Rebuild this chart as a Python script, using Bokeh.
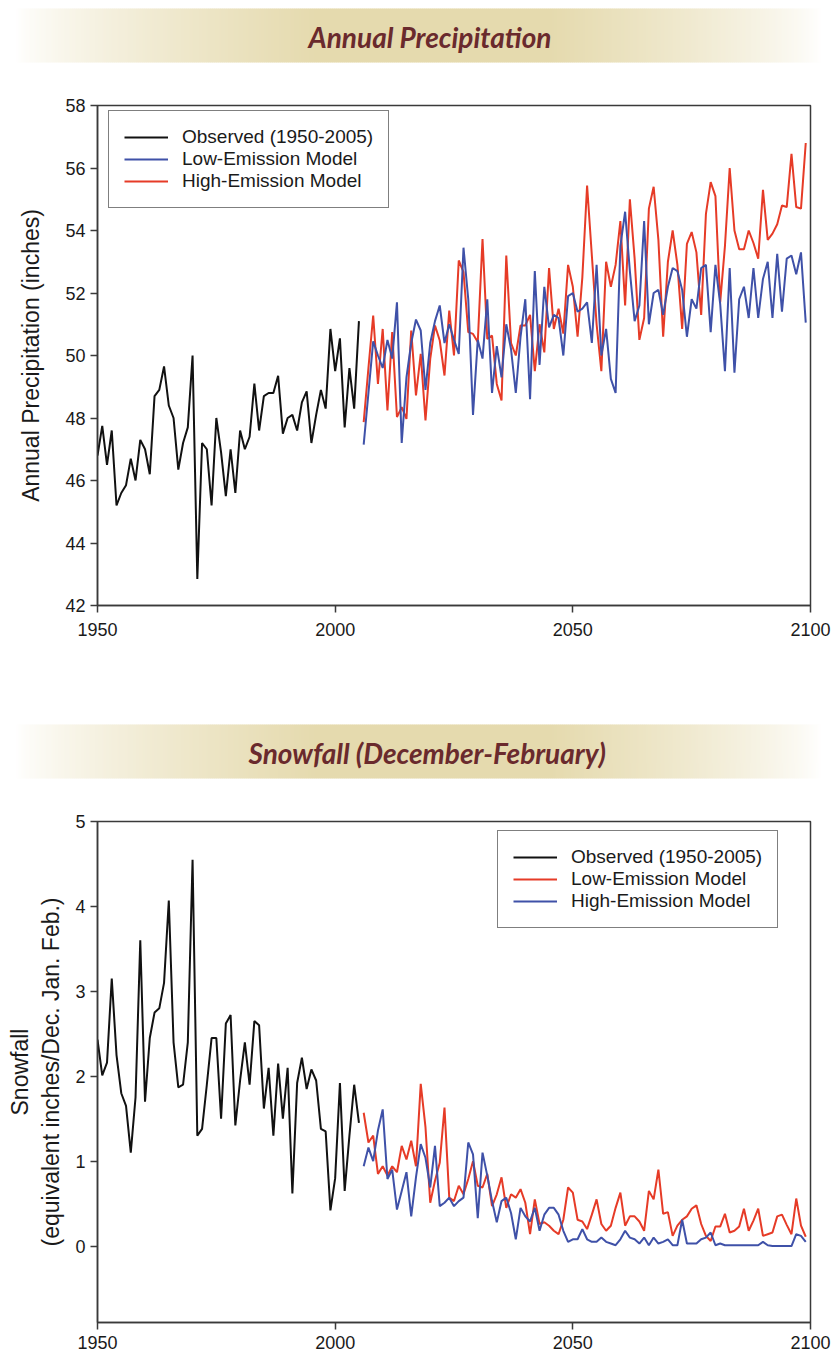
import numpy as np
from bokeh.plotting import figure
from bokeh.models import Range1d, FixedTicker, Legend, LegendItem
from bokeh.layouts import column
from bokeh.core.properties import value
from bokeh.embed import file_html
from bokeh.resources import INLINE

# ---------------------------------------------------------------- data
observed_years = list(range(1950, 2006))
model_years = list(range(2006, 2100))
year_ticks = [1950, 2000, 2050, 2100]

precip_ticks = [42, 44, 46, 48, 50, 52, 54, 56, 58]
snow_ticks = [0, 1, 2, 3, 4, 5]

# Annual precipitation, inches
precip_observed = [
    46.8, 47.75, 46.5, 47.6, 45.2, 45.6, 45.85, 46.7, 46.0, 47.3,    # 1950-59
    47.0, 46.2, 48.7, 48.9, 49.65, 48.4, 48.0, 46.35, 47.2, 47.7,    # 1960-69
    50.0, 42.85, 47.2, 47.0, 45.2, 48.0, 46.9, 45.5, 47.0, 45.6,     # 1970-79
    47.6, 47.0, 47.4, 49.1, 47.6, 48.7, 48.8, 48.8, 49.35, 47.5,     # 1980-89
    48.0, 48.1, 47.6, 48.5, 48.85, 47.2, 48.1, 48.9, 48.3, 50.85,    # 1990-99
    49.5, 50.55, 47.7, 49.6, 48.3, 51.1,                             # 2000-05
]
precip_low = [
    47.15, 48.8, 50.45, 50.0, 49.6, 50.5, 49.9, 51.7, 47.2, 49.3,    # 2006-15
    50.4, 51.15, 50.8, 48.9, 50.4, 51.1, 51.6, 50.4, 51.0, 50.5,     # 2016-25
    50.05, 53.45, 51.8, 48.1, 50.5, 49.9, 51.8, 48.8, 50.3, 49.3,    # 2026-35
    51.0, 50.2, 48.8, 50.6, 51.8, 48.6, 52.7, 49.7, 52.2, 50.9,      # 2036-45
    51.3, 51.2, 50.0, 51.9, 52.0, 51.4, 51.5, 51.7, 50.4, 52.9,      # 2046-55
    50.0, 50.85, 49.25, 48.8, 53.5, 54.6, 52.7, 51.1, 51.6, 54.3,    # 2056-65
    51.0, 52.0, 52.1, 51.3, 52.2, 52.8, 52.7, 52.1, 50.6, 51.8,      # 2066-75
    51.5, 52.8, 52.9, 50.75, 52.9, 51.65, 49.5, 52.8, 49.45, 51.8,   # 2076-85
    52.2, 51.2, 52.8, 51.2, 52.45, 53.0, 51.2, 53.25, 51.4, 53.1,    # 2086-95
    53.2, 52.6, 53.3, 51.05,                                         # 2096-99
]
precip_high = [
    47.87, 49.6, 51.28, 49.09, 50.85, 48.24, 50.75, 48.03, 48.35, 47.97,  # 2006-15
    50.8, 48.72, 50.05, 47.92, 49.89, 50.96, 50.48, 49.36, 51.44, 50.0,   # 2016-25
    53.04, 52.67, 50.75, 50.69, 50.43, 53.73, 50.53, 50.64, 49.09, 48.56, # 2026-35
    53.2, 50.4, 50.0, 50.96, 50.96, 51.3, 49.5, 51.0, 50.1, 52.8,         # 2036-45
    50.85, 51.5, 50.7, 52.9, 52.2, 50.6, 52.5, 55.44, 53.2, 51.0,         # 2046-55
    49.5, 53.0, 52.2, 52.9, 54.3, 51.6, 55.0, 53.1, 50.5, 51.2,           # 2056-65
    54.7, 55.4, 53.7, 50.6, 53.0, 54.0, 52.9, 50.85, 53.57, 53.95,        # 2066-75
    53.3, 51.3, 54.53, 55.55, 55.1, 51.7, 53.5, 56.0, 54.0, 53.4,         # 2076-85
    53.4, 54.0, 53.6, 53.1, 55.3, 53.7, 53.9, 54.2, 54.8, 54.75,          # 2086-95
    56.45, 54.75, 54.7, 56.8,                                             # 2096-99
]

# Winter (Dec-Feb) snowfall, equivalent inches
snow_observed = [
    2.43, 2.01, 2.16, 3.15, 2.25, 1.8, 1.65, 1.1, 1.75, 3.6,     # 1950-59
    1.7, 2.45, 2.75, 2.8, 3.1, 4.07, 2.4, 1.87, 1.9, 2.4,        # 1960-69
    4.55, 1.3, 1.38, 1.9, 2.45, 2.45, 1.5, 2.62, 2.72, 1.42,     # 1970-79
    1.95, 2.4, 1.9, 2.65, 2.6, 1.62, 2.1, 1.3, 2.15, 1.5,        # 1980-89
    2.1, 0.62, 1.92, 2.22, 1.85, 2.08, 1.95, 1.38, 1.35, 0.42,   # 1990-99
    0.8, 1.92, 0.65, 1.3, 1.9, 1.45,                             # 2000-05
]
snow_low = [
    1.57, 1.22, 1.30, 0.85, 0.94, 0.83, 0.94, 0.87, 1.18, 1.02,  # 2006-15
    1.24, 0.94, 1.91, 1.40, 0.51, 0.77, 0.98, 1.63, 0.57, 0.53,  # 2016-25
    0.71, 0.61, 0.79, 1.0, 0.71, 0.69, 0.85, 0.47, 0.61, 0.81,   # 2026-35
    0.45, 0.61, 0.57, 0.67, 0.51, 0.14, 0.55, 0.26, 0.28, 0.24,  # 2036-45
    0.18, 0.14, 0.31, 0.69, 0.63, 0.31, 0.29, 0.2, 0.37, 0.55,   # 2046-55
    0.26, 0.18, 0.24, 0.45, 0.63, 0.24, 0.35, 0.35, 0.29, 0.18,  # 2056-65
    0.65, 0.55, 0.90, 0.38, 0.40, 0.12, 0.24, 0.31, 0.35, 0.44,  # 2066-75
    0.48, 0.26, 0.12, 0.06, 0.23, 0.23, 0.38, 0.16, 0.18, 0.23,  # 2076-85
    0.44, 0.18, 0.30, 0.44, 0.12, 0.14, 0.16, 0.35, 0.37, 0.25,  # 2086-95
    0.14, 0.56, 0.24, 0.11,                                      # 2096-99
]
snow_high = [
    0.94, 1.16, 1.0, 1.36, 1.61, 0.79, 0.9, 0.43, 0.65, 0.87,    # 2006-15
    0.35, 0.81, 1.20, 1.04, 0.69, 1.18, 0.47, 0.51, 0.57, 0.47,  # 2016-25
    0.53, 0.57, 1.22, 1.08, 0.33, 1.1, 0.83, 0.53, 0.28, 0.53,   # 2026-35
    0.57, 0.39, 0.08, 0.45, 0.35, 0.29, 0.45, 0.18, 0.37, 0.45,  # 2036-45
    0.45, 0.37, 0.18, 0.05, 0.08, 0.08, 0.2, 0.08, 0.05, 0.05,   # 2046-55
    0.1, 0.05, 0.03, 0.01, 0.08, 0.18, 0.1, 0.08, 0.03, 0.1,     # 2056-65
    0.01, 0.1, 0.03, 0.05, 0.08, 0.01, 0.01, 0.31, 0.03, 0.03,   # 2066-75
    0.03, 0.08, 0.1, 0.16, 0.01, 0.03, 0.01, 0.01, 0.01, 0.01,   # 2076-85
    0.01, 0.01, 0.01, 0.01, 0.05, 0.01, 0.0, 0.0, 0.0, 0.0,      # 2086-95
    0.0, 0.14, 0.12, 0.05,                                       # 2096-99
]

# ---------------------------------------------------------------- style
PAGE_W = 836
INK = "#1a1a1a"
FRAME = "#3a3a3a"
C_OBS = "#111111"
C_BLUE = "#3f51a8"
C_RED = "#e63b27"
TITLE_INK = "#6a2a2d"
SANS = "Liberation Sans"


def banner(title, title_left, height, band_top, band_bottom):
    """Section heading on a beige band that fades to white at both ends."""
    p = figure(width=PAGE_W, height=height,
               x_range=Range1d(0, PAGE_W), y_range=Range1d(height, 0),
               x_axis_location=None, y_axis_location=None,
               output_backend="svg", toolbar_location=None, min_border=0)
    # keep this strip's own full-width frame instead of lining it up with the charts
    p.frame_align = False
    p.grid.visible = False
    p.outline_line_color = None
    p.background_fill_color = "white"
    p.border_fill_color = "white"

    step = 2.0
    lefts = np.arange(16, 820, step)
    mid = lefts + step / 2
    w = np.clip(np.minimum((mid - 16) / 300.0, (820 - mid) / 270.0), 0, 1)
    w = w ** 0.75
    white = np.array([255.0, 255.0, 255.0])
    beige = np.array([229.0, 218.0, 174.0])
    colors = ["#%02x%02x%02x" % tuple(int(round(c)) for c in white + (beige - white) * k)
              for k in w]
    p.quad(left=lefts, right=lefts + step + 0.6, top=band_top, bottom=band_bottom,
           fill_color=colors, line_color=None)
    p.text(x=[title_left], y=[(band_top + band_bottom) / 2 + 1], text=[title],
           text_font=value("Lato"), text_font_style="bold italic",
           text_font_size="28px", text_color=TITLE_INK,
           text_align="left", text_baseline="middle")
    return p


def chart(height, top, bottom, y_start, y_end, y_ticks, y_label, label_standoff,
          x_label_standoff):
    p = figure(width=PAGE_W, height=height,
               x_range=Range1d(1950, 2100), y_range=Range1d(y_start, y_end),
               output_backend="svg", toolbar_location=None,
               min_border_left=97, min_border_right=26,
               min_border_top=top, min_border_bottom=bottom)
    p.grid.visible = False
    p.outline_line_color = FRAME
    p.outline_line_width = 1.5
    p.xaxis.ticker = FixedTicker(ticks=year_ticks)
    p.yaxis.ticker = FixedTicker(ticks=y_ticks)
    for ax in (p.xaxis[0], p.yaxis[0]):
        ax.axis_line_color = FRAME
        ax.axis_line_width = 1.5
        ax.major_tick_line_color = FRAME
        ax.major_tick_line_width = 1.5
        ax.major_tick_in = 0
        ax.major_tick_out = 7
        ax.minor_tick_in = 0
        ax.minor_tick_out = 0
        ax.major_label_text_font = SANS
        ax.major_label_text_font_size = "18px"
        ax.major_label_text_color = INK
    p.xaxis.major_label_standoff = x_label_standoff
    p.yaxis.major_label_standoff = 5
    p.yaxis.axis_label = y_label
    p.yaxis.axis_label_text_font = SANS
    p.yaxis.axis_label_text_font_size = "23px"
    p.yaxis.axis_label_text_font_style = "normal"
    p.yaxis.axis_label_text_color = INK
    p.yaxis.axis_label_standoff = label_standoff
    return p


def add_legend(p, entries, location):
    items = [LegendItem(label=lab, renderers=[r]) for lab, r in entries]
    lg = Legend(items=items, location=location, margin=0, padding=15, spacing=0,
                glyph_width=44, glyph_height=20, label_standoff=14, label_height=20,
                label_text_font=SANS, label_text_font_size="19px",
                label_text_color=INK, border_line_color="black",
                border_line_width=1.5, background_fill_color="white",
                background_fill_alpha=1.0)
    p.add_layout(lg)


# ---------------------------------------------------------------- precipitation
head1 = banner("Annual Precipitation", 308, 70, 8, 62)
p1 = chart(595, 35, 60, 42, 58, precip_ticks, "Annual Precipitation (inches)", 18, 10)
r_hi = p1.line(model_years, precip_high, line_color=C_RED, line_width=2)
r_lo = p1.line(model_years, precip_low, line_color=C_BLUE, line_width=2)
r_obs = p1.line(observed_years, precip_observed, line_color=C_OBS, line_width=2)
add_legend(p1, [("Observed (1950-2005)", r_obs),
                ("Low-Emission Model", r_lo),
                ("High-Emission Model", r_hi)], (11, 397))

# ---------------------------------------------------------------- snowfall
head2 = banner("Snowfall (December-February)", 248, 125, 59, 113)
p2 = chart(568, 31, 36, -0.9, 5, snow_ticks,
           "Snowfall\n(equivalent inches/Dec. Jan. Feb.)", 8, 6)
s_lo = p2.line(model_years, snow_low, line_color=C_RED, line_width=2)
s_hi = p2.line(model_years, snow_high, line_color=C_BLUE, line_width=2)
s_obs = p2.line(observed_years, snow_observed, line_color=C_OBS, line_width=2)
add_legend(p2, [("Observed (1950-2005)", s_obs),
                ("Low-Emission Model", s_lo),
                ("High-Emission Model", s_hi)], (400, 394))

page = column(head1, p1, head2, p2, spacing=0)
open("out.html", "w").write(file_html(page, INLINE))
